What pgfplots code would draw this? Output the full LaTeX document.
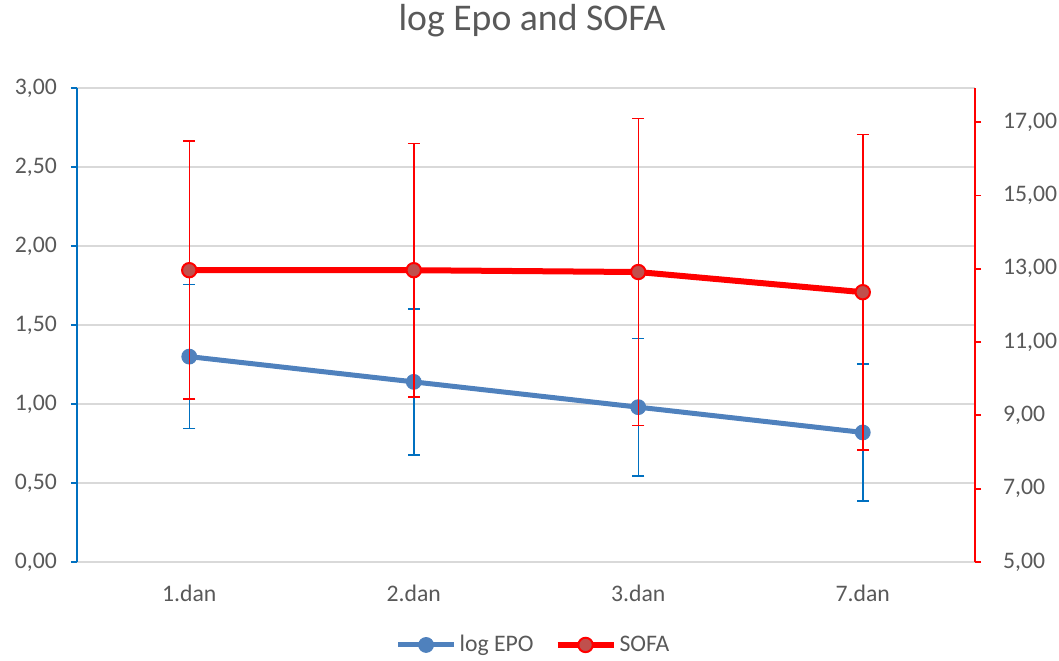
\documentclass[border=0pt]{standalone}
\usepackage{pgfplots}
\pgfplotsset{compat=1.18}
\usepackage{fontspec}
\setmainfont{Carlito}

\definecolor{epoline}{HTML}{4F81BD}
\definecolor{epoerr}{HTML}{0070C0}
\definecolor{sofamark}{HTML}{C0504D}
\definecolor{txt}{HTML}{595959}
\definecolor{gridc}{HTML}{D9D9D9}

\pgfplotsset{
  base/.style={
    width=449pt, height=237pt, scale only axis,
    xmin=-0.5, xmax=3.5,
    tick label style={font=\fontsize{11.85}{14}\selectfont, text=txt},
    /pgf/number format/fixed,
    /pgf/number format/fixed zerofill,
    /pgf/number format/precision=2,
    /pgf/number format/use comma,
    /pgf/number format/assume math mode=true,
    tick align=outside, major tick length=3pt,
  },
}

\begin{document}
\begin{tikzpicture}
\useasboundingbox (-38.5pt,-49pt) rectangle (491pt,281pt);

% primary axis: log EPO
\begin{axis}[base,
  ymin=0, ymax=3,
  ytick={0,0.5,1,1.5,2,2.5,3},
  yticklabel style={xshift=-3.5pt},
  xtick={0,1,2,3},
  xticklabels={1.dan,2.dan,3.dan,7.dan},
  xticklabel style={yshift=-5pt},
  xtick style={draw=none},
  axis y line*=left, axis x line*=bottom,
  y axis line style={draw=epoerr, line width=0.9pt, -},
  x axis line style={draw=gridc, line width=0.75pt, -},
  ytick style={draw=epoerr, line width=0.9pt},
  ymajorgrids, grid style={draw=gridc, line width=0.75pt},
  title={log Epo and SOFA},
  title style={font=\fontsize{18.85}{22}\selectfont, text=txt, at={(0.5,1)}, anchor=center, yshift=27.5pt, xshift=3pt},
  legend style={at={(0.5,-0.175)}, anchor=center, xshift=4pt, draw=none, fill=none,
    legend columns=2, font=\fontsize{11.85}{14}\selectfont, text=txt,
    nodes={inner sep=1.5pt},
    /tikz/every even column/.append style={column sep=9pt}},
  legend image code/.code={\draw[mark repeat=2,mark phase=2,#1] plot coordinates {(0pt,0pt)(14pt,0pt)(28pt,0pt)};},
]
\addplot[color=epoline, line width=2.5pt, mark=*, mark size=3.7pt,
  mark options={fill=epoline, draw=epoline, line width=0.5pt},
  error bars/.cd, y dir=both, y explicit,
  error bar style={draw=epoerr, line width=0.75pt},
  error mark options={rotate=90, mark size=3pt, draw=epoerr, line width=0.75pt}]
coordinates {
  (0,1.30) +- (0,0.456)
  (1,1.14) +- (0,0.462)
  (2,0.98) +- (0,0.435)
  (3,0.82) +- (0,0.433)
};
\addlegendentry{log EPO}
\addlegendimage{color=red, line width=3pt, mark=*, mark size=3.6pt, mark options={fill=sofamark, draw=red, line width=1pt}}
\addlegendentry{SOFA}
\end{axis}

% secondary axis: SOFA
\begin{axis}[base,
  ymin=5, ymax=17.93,
  ytick={5,7,9,11,13,15,17},
  xtick=\empty,
  axis y line*=right, axis x line=none,
  y axis line style={draw=red, line width=0.9pt, -},
  ytick style={draw=red, line width=0.9pt},
  yticklabel style={xshift=7.5pt},
]
\addplot[color=red, line width=3pt, mark=*, mark size=3.6pt,
  mark options={fill=sofamark, draw=red, line width=1pt},
  error bars/.cd, y dir=both, y explicit,
  error bar style={draw=red, line width=0.75pt},
  error mark options={rotate=90, mark size=3pt, draw=red, line width=0.75pt}]
coordinates {
  (0,12.96) +- (0,3.52)
  (1,12.96) +- (0,3.46)
  (2,12.91) +- (0,4.19)
  (3,12.36) +- (0,4.30)
};
\end{axis}
\end{tikzpicture}
\end{document}
